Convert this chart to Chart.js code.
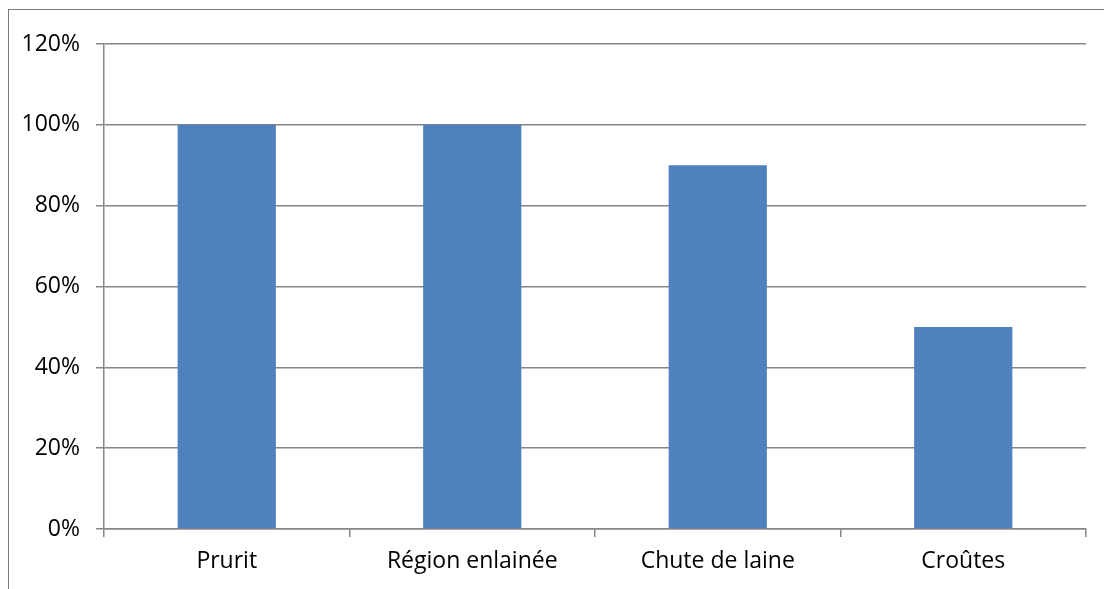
<!DOCTYPE html>
<html>
<head>
<meta charset="utf-8">
<script src="https://cdn.jsdelivr.net/npm/chart.js@4.4.1/dist/chart.umd.min.js"></script>
<style>
  html, body { margin: 0; padding: 0; background: #fff; }
  #wrap { position: relative; width: 1104px; height: 589px; overflow: hidden; }
  #frame {
    position: absolute; left: 8px; top: 9px; width: 1200px; height: 700px;
    border-left: 1px solid #7a7a7a; border-top: 1px solid #7a7a7a;
  }
  canvas { position: absolute; left: 0; top: 0; }
</style>
</head>
<body>
<div id="wrap">
  <div id="frame"></div>
  <canvas id="chart" width="1104" height="589"></canvas>
</div>
<script>
// symptoms and share of cases
const categories = ['Prurit', 'Région enlainée', 'Chute de laine', 'Croûtes'];
const values = [1.0, 1.0, 0.9, 0.5];
const yTicks = [0, 0.2, 0.4, 0.6, 0.8, 1.0, 1.2];

const gridColor = '#868686';
const labelFont = { family: 'Open Sans', size: 23 };

new Chart(document.getElementById('chart'), {
  type: 'bar',
  data: {
    labels: categories,
    datasets: [{
      data: values,
      backgroundColor: '#4f81bd',
      borderWidth: 0,
      barPercentage: 0.4,
      categoryPercentage: 1
    }]
  },
  options: {
    responsive: false,
    animation: false,
    layout: { padding: { top: 44, right: 18, left: 0, bottom: 0 } },
    plugins: { legend: { display: false }, tooltip: { enabled: false } },
    scales: {
      x: {
        offset: true,
        grid: {
          offset: true,
          drawOnChartArea: false,
          drawTicks: true,
          tickLength: 8,
          color: gridColor,
          lineWidth: 1.5
        },
        border: { color: gridColor, width: 1.5 },
        ticks: { color: '#000', font: labelFont, padding: 11 },
        afterFit: (scale) => { scale.height = 60; }
      },
      y: {
        min: 0,
        max: 1.2,
        afterBuildTicks: (scale) => { scale.ticks = yTicks.map(v => ({ value: v })); },
        grid: { color: gridColor, lineWidth: 1.5, tickLength: 8 },
        border: { color: gridColor, width: 1.5 },
        ticks: {
          color: '#000',
          font: labelFont,
          padding: 16,
          callback: (v) => Math.round(v * 100) + '%'
        },
        afterFit: (scale) => { scale.width = 104; }
      }
    }
  }
});
</script>
</body>
</html>
